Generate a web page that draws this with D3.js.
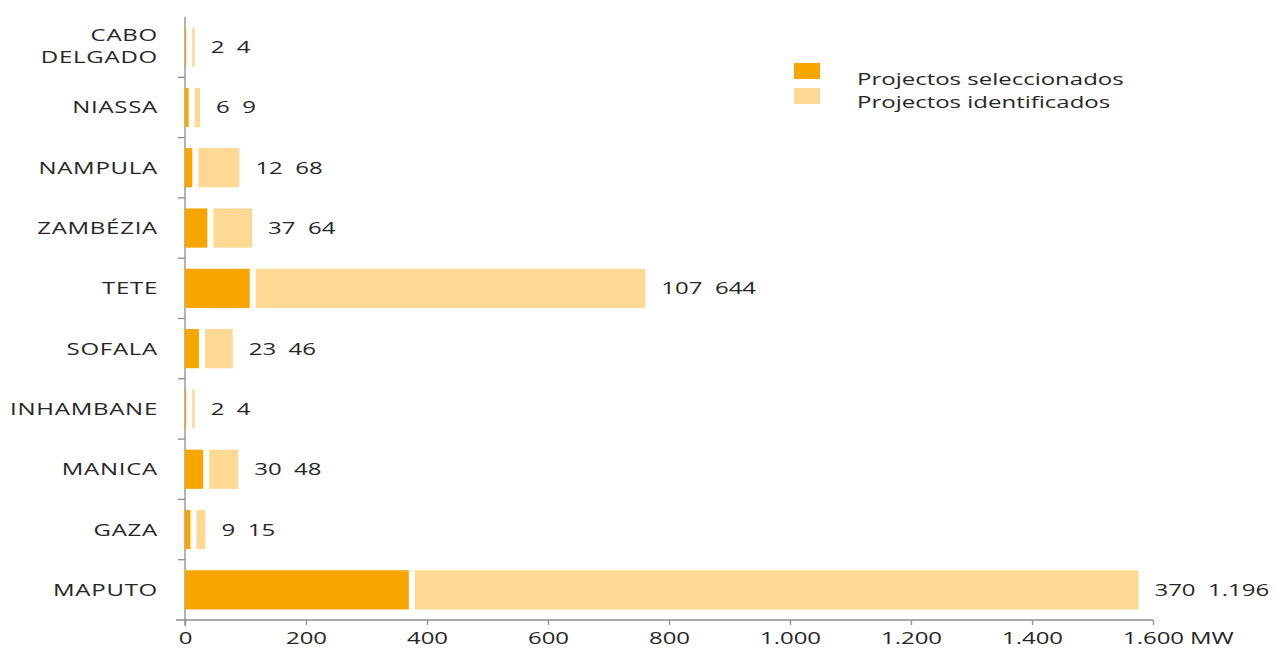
<!DOCTYPE html>
<html>
	<meta charset="utf-8">
	<style>
	body
	{
		margin:0;
		padding:0;
		background:#fff;
	}
	text
	{
		font-family: "Open Sans", sans-serif;
		font-size: 16px;
		fill: #262626;
		white-space: pre;
	}
	.axis path, .axis line
	{
		stroke: #8c8c8c;
		stroke-width: 1.3px;
	}
	</style>
	<svg id="svgobject" width="1275" height="650"></svg>

	<script src="https://cdn.jsdelivr.net/npm/d3@7"></script>
	<script>
	// provinces, top to bottom
	var provincias = ["CABO DELGADO", "NIASSA", "NAMPULA", "ZAMBÉZIA", "TETE", "SOFALA", "INHAMBANE", "MANICA", "GAZA", "MAPUTO"];
	// MW
	var seleccionados = [2, 6, 12, 37, 107, 23, 2, 30, 9, 370];
	var identificados = [4, 9, 68, 64, 644, 46, 4, 48, 15, 1196];
	var xTicks = [0, 200, 400, 600, 800, 1000, 1200, 1400, 1600];
	var legendas = ["Projectos seleccionados", "Projectos identificados"];

	var corSel = "#f8a500",
		corIdent = "#fdd994",
		sx = 1.5,	// picture is stretched sideways
		gap = 6;

	var pt = d3.formatLocale({decimal: ",", thousands: ".", grouping: [3], currency: ["", ""]});
	var fmt = pt.format(",d");

	var svg = d3.select("svg"),
		margin = {top: 17, right: 122, bottom: 30, left: 185},
		width = 1275 - margin.left - margin.right,
		height = 650 - margin.top - margin.bottom,
		g = svg.append("g").attr("transform", "translate(" + margin.left + "," + margin.top + ")");

	var data = provincias.map(function(p, i) {
		return {name: p, sel: seleccionados[i], ident: identificados[i]};
	});

	var x = d3.scaleLinear().domain([0, 1600]).range([0, width]);
	var y = d3.scaleBand().domain(provincias).range([0, height]).paddingInner(0.35).paddingOuter(0.175);

	// x axis
	var xAxis = g.append("g")
		.attr("class", "axis axis--x")
		.attr("transform", "translate(0," + height + ")")
		.call(d3.axisBottom(x).tickValues(xTicks).tickSizeOuter(0).tickSize(5).tickFormat(fmt));
	xAxis.select(".domain").attr("d", "M-9,0H" + width);
	xAxis.selectAll("text")
		.attr("y", 24)
		.attr("dy", 0)
		.attr("fill", "#262626")
		.style("font-size", "16px")
		.attr("transform", "scale(" + sx + ",1)");
	xAxis.append("text")
		.attr("x", (x(1600) + 37) / sx)
		.attr("y", 24)
		.attr("text-anchor", "start")
		.attr("transform", "scale(" + sx + ",1)")
		.style("font-size", "16px")
		.text("MW");

	// y axis: line, ticks between categories
	var yAxis = g.append("g").attr("class", "axis axis--y");
	yAxis.append("line")
		.attr("x1", 0).attr("x2", 0)
		.attr("y1", 0).attr("y2", height + 6);
	var bounds = d3.range(1, provincias.length).map(function(i) { return i * y.step(); });
	yAxis.selectAll(".tk")
		.data(bounds)
	  .enter().append("line")
		.attr("class", "tk")
		.attr("x1", -7).attr("x2", 0)
		.attr("y1", function(d) { return d; })
		.attr("y2", function(d) { return d; });

	// category labels
	var lab = g.selectAll(".lab")
		.data(data)
	  .enter().append("text")
		.attr("class", "lab")
		.attr("text-anchor", "end")
		.attr("transform", function(d) { return "translate(-27," + (y(d.name) + y.bandwidth() / 2) + ") scale(" + sx + ",1)"; })
		.style("letter-spacing", "0.5px");
	lab.each(function(d) {
		var t = d3.select(this);
		var parts = d.name == "CABO DELGADO" ? ["CABO", "DELGADO"] : [d.name];
		parts.forEach(function(p, j) {
			t.append("tspan")
				.attr("x", 0)
				.attr("y", parts.length == 1 ? 6 : (j == 0 ? -6 : 16))
				.text(p);
		});
	});

	// bars
	g.selectAll(".bar-sel")
		.data(data)
	  .enter().append("rect")
		.attr("class", "bar-sel")
		.attr("x", x(0))
		.attr("y", function(d) { return y(d.name); })
		.attr("width", function(d) { return x(d.sel) - x(0); })
		.attr("height", y.bandwidth())
		.attr("fill", corSel);

	g.selectAll(".bar-ident")
		.data(data)
	  .enter().append("rect")
		.attr("class", "bar-ident")
		.attr("x", function(d) { return x(d.sel) + gap; })
		.attr("y", function(d) { return y(d.name); })
		.attr("width", function(d) { return x(d.ident) - x(0); })
		.attr("height", y.bandwidth())
		.attr("fill", corIdent);

	// value labels
	g.selectAll(".val")
		.data(data)
	  .enter().append("text")
		.attr("class", "val")
		.attr("transform", function(d) {
			var ex = x(d.sel) + gap + x(d.ident) - x(0) + 16;
			return "translate(" + ex + "," + (y(d.name) + y.bandwidth() / 2 + 6) + ") scale(" + sx + ",1)";
		})
		.text(function(d) { return fmt(d.sel) + "  " + fmt(d.ident); });

	// legend
	var leg = svg.append("g").attr("class", "legend").attr("transform", "translate(794,63)");
	var li = leg.selectAll(".li")
		.data(legendas)
	  .enter().append("g")
		.attr("class", "li")
		.attr("transform", function(d, i) { return "translate(0," + (i * 25) + ")"; });
	li.append("rect")
		.attr("width", 26)
		.attr("height", 16)
		.attr("fill", function(d, i) { return i == 0 ? corSel : corIdent; });
	li.append("text")
		.attr("transform", function(d, i) { return "translate(63," + (i == 0 ? 22 : 20) + ") scale(" + sx + ",1)"; })
		.text(function(d) { return d; });
	</script>

</html>
